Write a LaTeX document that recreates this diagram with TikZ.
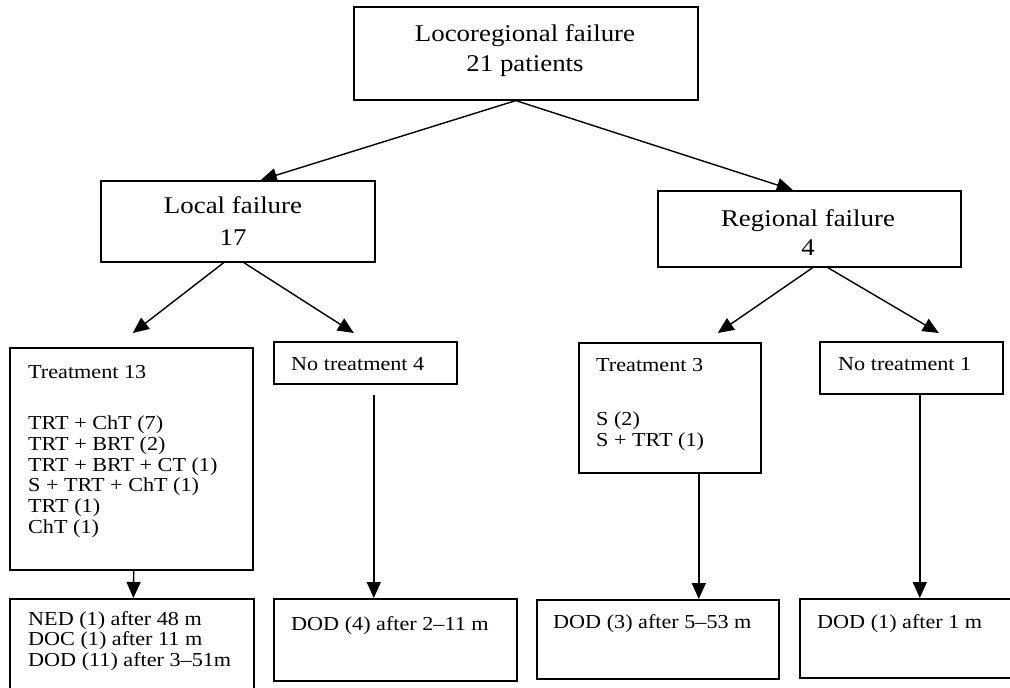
\documentclass[tikz,border=0pt]{standalone}
\usepackage{fontspec}
\setmainfont{Liberation Serif}[FakeStretch=1.12]
\usetikzlibrary{arrows.meta}
\begin{document}
\begin{tikzpicture}[x=1pt,y=-1pt,
  box/.style={draw, line width=1.6pt, inner sep=0pt, anchor=north west},
  big/.style={inner sep=0pt, anchor=base, font=\fontsize{24}{30}\selectfont},
  small/.style={inner sep=0pt, anchor=base west, font=\fontsize{19.8}{21}\selectfont},
  arr/.style={line width=1.4pt, -{Triangle[length=16pt,width=14pt]}}]
\useasboundingbox (0,0) rectangle (1010,688);
\clip (0,0) rectangle (1010,688);
% boxes
\node[box, minimum width=344pt, minimum height=93pt] (top) at (353,6) {};
\node[box, minimum width=274pt, minimum height=81pt] (local) at (100,180) {};
\node[box, minimum width=303pt, minimum height=76pt] (regional) at (657,190) {};
\node[box, minimum width=243pt, minimum height=222pt] (t13) at (9,347) {};
\node[box, minimum width=183pt, minimum height=42pt] (nt4) at (273,341) {};
\node[box, minimum width=182pt, minimum height=130pt] (t3) at (578,342) {};
\node[box, minimum width=183pt, minimum height=52pt] (nt1) at (819,341) {};
\node[box, minimum width=244pt, minimum height=100pt] (o1) at (9,598) {};
\node[box, minimum width=243pt, minimum height=82pt] (o2) at (273,598) {};
\node[box, minimum width=242pt, minimum height=79pt] (o3) at (536,599) {};
\node[box, minimum width=240pt, minimum height=79pt] (o4) at (799,598) {};
% texts
\node[big] (topa) at (525,41) {Locoregional failure};
\node[big] (topb) at (525,71) {21 patients};
\node[big] (loca) at (233,213) {Local failure};
\node[big] (locb) at (233,245) {17};
\node[big] (rega) at (808,226) {Regional failure};
\node[big] (regb) at (808,255) {4};
\node[small] (t13h) at (28,378) {Treatment 13};
\node[small] (t13a) at (28,429.5) {TRT + ChT (7)};
\node[small] (t13b) at (28,450.3) {TRT + BRT (2)};
\node[small] (t13c) at (28,471.1) {TRT + BRT + CT (1)};
\node[small] (t13d) at (28,491.9) {S + TRT + ChT (1)};
\node[small] (t13e) at (28,512.7) {TRT (1)};
\node[small] (t13f) at (28,533.5) {ChT (1)};
\node[small] (nt4t) at (291,370) {No treatment 4};
\node[small] (t3h) at (596,371.5) {Treatment 3};
\node[small] (t3a) at (596,425) {S (2)};
\node[small] (t3b) at (596,446.5) {S + TRT (1)};
\node[small] (nt1t) at (838,370.5) {No treatment 1};
\node[small] (o1a) at (28,625) {NED (1) after 48 m};
\node[small] (o1b) at (28,645.5) {DOC (1) after 11 m};
\node[small] (o1c) at (28,666) {DOD (11) after 3--51m};
\node[small] (o2t) at (291,630) {DOD (4) after 2--11 m};
\node[small] (o3t) at (553,628) {DOD (3) after 5--53 m};
\node[small] (o4t) at (817,628) {DOD (1) after 1 m};
% connectors
\draw[arr] ([xshift=-10pt]top.south) -- ([xshift=23pt]local.north);
\draw[arr] ([xshift=-10pt]top.south) -- ([xshift=-16.5pt]regional.north);
\draw[arr] ([xshift=-14pt]local.south) -- ([xshift=1.5pt,yshift=14pt]t13.north);
\draw[arr] ([xshift=6pt]local.south) -- ([xshift=-11.5pt,yshift=8pt]nt4.north);
\draw[arr] ([xshift=3.5pt]regional.south) -- ([xshift=48pt,yshift=9pt]t3.north);
\draw[arr] ([xshift=18.5pt]regional.south) -- ([xshift=27.5pt,yshift=8pt]nt1.north);
\draw[arr] ([xshift=2.5pt]t13.south) -- ([xshift=1.5pt]o1.north);
\draw[arr] ([xshift=8.5pt,yshift=-10pt]nt4.south) -- ([xshift=-21.5pt]o2.north);
\draw[arr] ([xshift=29pt]t3.south) -- ([xshift=41pt]o3.north);
\draw[arr] ([xshift=8.5pt]nt1.south) -- ([xshift=0pt]o4.north);
\end{tikzpicture}
\end{document}
